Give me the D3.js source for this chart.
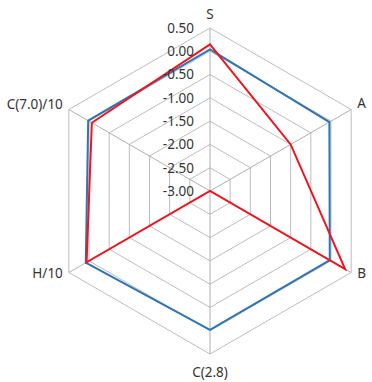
<!DOCTYPE html>
<html>
<head>
<meta charset="utf-8">
<script src="https://cdn.jsdelivr.net/npm/d3@7"></script>
<style>
  body { margin: 0; background: #fff; }
  text { font-family: "Noto Sans", "Open Sans", sans-serif; fill: #333; }
</style>
</head>
<body>
<svg width="372" height="382"></svg>
<script>
// chart data
var axesNames = ["S", "A", "B", "C(2.8)", "H/10", "C(7.0)/10"];
var blueValues = [0.04, -0.04, -0.03, -0.02, 0.08, 0.02];
var redValues = [0.15, -1.0, 0.35, -3.0, 0.06, -0.07];
var tickValues = [0.5, 0, -0.5, -1, -1.5, -2, -2.5, -3];

var cx = 210, cy = 191, R = 163;

var svg = d3.select("svg");
var g = svg.append("g")
           .attr("transform", "translate(" + cx + "," + cy + ")");

var r = d3.scaleLinear()
          .domain([-3, 0.5])
          .range([0, R]);

var angle = d3.scaleLinear()
              .domain([0, axesNames.length])
              .range([0, 2 * Math.PI]);

function pt(i, v) {
    var a = angle(i);
    return [r(v) * Math.sin(a), -r(v) * Math.cos(a)];
}

// rings
var ringLevels = tickValues.filter(function (d) { return d > -3; });
g.append("g")
 .selectAll("polygon")
 .data(ringLevels)
 .enter()
 .append("polygon")
 .attr("points", function (v) {
     return axesNames.map(function (d, i) { return pt(i, v).join(","); }).join(" ");
 })
 .style("fill", "none")
 .style("stroke", "#bdbdbd")
 .style("stroke-width", 1);

// spokes
g.append("g")
 .selectAll("line")
 .data(axesNames)
 .enter()
 .append("line")
 .attr("x1", 0).attr("y1", 0)
 .attr("x2", function (d, i) { return pt(i, 0.5)[0]; })
 .attr("y2", function (d, i) { return pt(i, 0.5)[1]; })
 .style("stroke", "#b0b0b0")
 .style("stroke-width", 1);

// series
var line = d3.line().curve(d3.curveLinearClosed);
[[blueValues, "#2e75b6"], [redValues, "#f0141e"]].forEach(function (s) {
    g.append("path")
     .attr("d", line(s[0].map(function (v, i) { return pt(i, v); })))
     .style("fill", "none")
     .style("stroke", s[1])
     .style("stroke-width", 2)
     .style("stroke-linejoin", "miter");
});

// tick labels
g.append("g")
 .selectAll("text")
 .data(tickValues)
 .enter()
 .append("text")
 .attr("x", -16)
 .attr("y", function (d) { return -r(d); })
 .attr("dy", "0.36em")
 .style("text-anchor", "end")
 .style("font-size", "13.5px")
 .text(function (d) { return d3.format(".2f")(d).replace("−", "-"); });

// axis labels
var labelPos = [
    {dx: 0, dy: -14, anchor: "middle"},
    {dx: 6, dy: -6, anchor: "start"},
    {dx: 6, dy: 1, anchor: "start"},
    {dx: 0, dy: 18, anchor: "middle"},
    {dx: -6, dy: 1, anchor: "end"},
    {dx: -6, dy: -5, anchor: "end"}
];
g.append("g")
 .selectAll("text")
 .data(axesNames)
 .enter()
 .append("text")
 .attr("x", function (d, i) { return pt(i, 0.5)[0] + labelPos[i].dx; })
 .attr("y", function (d, i) { return pt(i, 0.5)[1] + labelPos[i].dy; })
 .attr("dy", "0.36em")
 .style("text-anchor", function (d, i) { return labelPos[i].anchor; })
 .style("font-size", "13.5px")
 .text(function (d) { return d; });
</script>
</body>
</html>
